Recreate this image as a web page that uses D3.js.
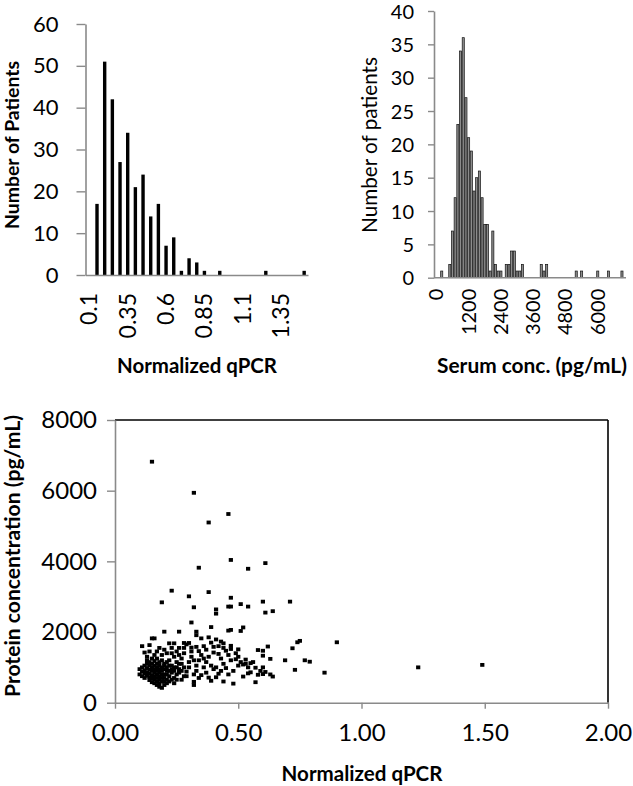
<!DOCTYPE html>
<html><head><meta charset="utf-8">
<script src="https://cdn.jsdelivr.net/npm/d3@7"></script>
<style>
body{margin:0;background:#fff}
svg{display:block}
text{font-family:Lato,"Open Sans",sans-serif;fill:#000}
</style>
</head><body>
<svg id="c" width="633" height="786"></svg>
<script>
// ---------- DATA ----------
const qpcrBins = ["0.1","0.15","0.2","0.25","0.3","0.35","0.4","0.45","0.5","0.55","0.6","0.65","0.7","0.75","0.8","0.85","0.9","0.95","1","1.05","1.1","1.15","1.2","1.25","1.3","1.35","1.4","1.45","1.5"];
const qpcrCounts = [0,17,51,42,27,34,21,24,14,17,7,9,1,4,3,1,0,1,0,0,0,0,0,1,0,0,0,0,1];
const qpcrTickLabels = ["0.1","0.35","0.6","0.85","1.1","1.35"];
const qpcrYTicks = [0,10,20,30,40,50,60];

const serumBins = [0,100,200,300,400,500,600,700,800,900,1000,1100,1200,1300,1400,1500,1600,1700,1800,1900,2000,2100,2200,2300,2400,2500,2600,2700,2800,2900,3000,3100,3200,3300,3400,3500,3600,3700,3800,3900,4000,4100,4200,4300,4400,4500,4600,4700,4800,4900,5000,5100,5200,5300,5400,5500,5600,5700,5800,5900,6000,6100,6200,6300,6400,6500,6600,6700,6800,6900,7000];
const serumCounts = [0,0,1,0,0,2,7,12,23,34,36,27,21,19,13,15,16,12,8,8,1,7,2,1,1,0,2,2,4,4,1,1,2,0,0,0,0,0,0,2,1,2,0,0,0,0,0,0,0,0,0,0,1,0,1,0,0,0,0,0,1,0,0,0,1,0,0,0,0,1,0];
const serumTickLabels = [0,1200,2400,3600,4800,6000];
const serumYTicks = [0,5,10,15,20,25,30,35,40];

const scatterXTicks = [0,0.5,1,1.5,2];
const scatterYTicks = [0,2000,4000,6000,8000];
// [normalized qPCR, protein concentration pg/mL]
const scatterPoints = [
[0.15,6820],[0.32,5940],[0.46,5340],[0.38,5100],[0.47,4040],[0.61,3950],[0.34,3820],[0.54,3790],
[0.23,3170],[0.38,3130],[0.30,3010],[0.47,2970],[0.19,2840],[0.60,2860],[0.71,2860],[0.32,2700],[0.41,2640],[0.41,2520],[0.46,2720],[0.47,2720],[0.51,2790],[0.54,2720],[0.61,2550],[0.64,2590],
[0.31,2270],[0.39,2140],[0.20,2010],[0.26,2010],[0.33,2010],[0.46,2040],[0.47,2060],[0.51,2030],[0.52,2130],
[0.15,1820],[0.16,1820],[0.11,1600],[0.14,1630],[0.75,1750],[0.74,1710],[0.90,1710],[0.72,1540],
[0.33,1910],[0.38,1850],[0.35,1820],[0.41,1790],[0.43,1730],[0.44,1680],[0.47,1610],[0.50,1510],[0.58,1490],[0.60,1470],[0.62,1590],[0.60,1330],[0.63,1240],[0.69,1200],[0.77,1200],[0.79,1160],[0.73,930],[0.85,850],[1.23,1000],[1.49,1070],[0.60,1000],[0.60,810],[0.64,740],[0.54,830],[0.52,740],[0.48,540],[0.57,580],[0.44,600],[0.38,710],[0.32,500],[0.32,590],
[0.22,1680],[0.24,1680],[0.26,1550],[0.28,1690],[0.29,1650],[0.31,1560],[0.30,1690],[0.34,1460],[0.37,1500],[0.40,1580],[0.40,1420],[0.42,1380],[0.45,1470],[0.47,1520],[0.49,1400],[0.50,1300],[0.51,1150],[0.53,1100],[0.55,1120],[0.56,1150],[0.52,1080],[0.54,1000],[0.57,990],[0.55,860],[0.58,790],[0.59,900],[0.61,870],[0.63,800],[0.53,1220],[0.49,1230],[0.47,1200],[0.44,1100],[0.45,980],[0.43,900],[0.42,820],[0.41,720],[0.40,950],[0.39,1050],[0.37,1150],[0.36,1250],[0.35,1350],[0.34,1200],[0.33,1050],[0.33,900],[0.32,800],[0.31,1300],[0.30,1150],[0.30,1000],[0.29,880],[0.28,1400],[0.27,1250],[0.27,1100],[0.26,950],[0.25,1450],[0.25,800],[0.24,1300],[0.24,700],[0.23,1550],[0.23,1050],[0.22,1200],[0.22,900],[0.21,1400],[0.21,650],[0.20,1500],[0.20,1100],[0.20,800],[0.38,1300],[0.36,1000],[0.35,780],[0.43,1250],[0.46,1350],[0.48,900],[0.50,1050],[0.44,1550],[0.42,1600],[0.39,1700],[0.36,1600],[0.33,1580],[0.31,1450],[0.28,1550],[0.26,1350],[0.32,1200],[0.34,700],[0.37,850],[0.39,620],[0.41,1000],[0.46,800],[0.27,650],[0.29,750],[0.25,1150],[0.23,1400],
[0.10,950],[0.10,800],[0.11,1000],[0.11,880],[0.11,750],[0.12,1050],[0.12,920],[0.12,820],[0.12,700],[0.13,1100],[0.13,980],[0.13,860],[0.13,760],[0.13,1200],[0.14,1050],[0.14,930],[0.14,820],[0.14,720],[0.14,640],[0.14,1150],[0.15,1000],[0.15,900],[0.15,780],[0.15,680],[0.15,580],[0.15,1250],[0.15,1100],[0.16,1050],[0.16,950],[0.16,850],[0.16,750],[0.16,650],[0.16,550],[0.16,1180],[0.17,1100],[0.17,1000],[0.17,900],[0.17,800],[0.17,700],[0.17,600],[0.17,500],[0.17,1250],[0.18,1050],[0.18,950],[0.18,850],[0.18,750],[0.18,650],[0.18,550],[0.18,450],[0.18,1150],[0.19,1000],[0.19,900],[0.19,800],[0.19,700],[0.19,600],[0.19,420],[0.19,1200],[0.20,950],[0.20,1050],[0.20,700],[0.20,600],[0.20,500],[0.21,1000],[0.21,900],[0.21,800],[0.21,550],[0.21,1150],[0.22,1050],[0.22,750],[0.22,600],[0.23,950],[0.23,850],[0.23,650],[0.24,1000],[0.24,900],[0.24,550],[0.25,1000],[0.25,650],[0.26,1100],[0.26,850],[0.27,900],[0.28,1000],[0.28,750],[0.14,1450],[0.12,1420],[0.17,1450],[0.19,1350],[0.16,1350],[0.18,1550],[0.13,1300]
];

// ---------- DRAW ----------
const svg = d3.select("#c");
const AX = "#8a8a8a";

function fitText(sel, len){
  const w = sel.node().getComputedTextLength();
  const fs = parseFloat(sel.attr("font-size"));
  sel.attr("font-size", (fs*len/w).toFixed(2));
}
function styleAxis(g, fs){
  g.select(".domain").attr("stroke", AX).attr("stroke-width", 1.6);
  g.selectAll(".tick line").attr("stroke", AX).attr("stroke-width", 1.4);
  g.selectAll(".tick text").attr("font-size", fs).attr("font-family","Lato").attr("fill","#000");
}

// ---- Panel A: qPCR histogram ----
{
  const x = d3.scaleBand().domain(qpcrBins).range([85.5, 308]).paddingInner(0);
  const y = d3.scaleLinear().domain([0, 60]).range([275, 24]);
  const g = svg.append("g");
  g.selectAll("rect").data(qpcrBins.map((b,i)=>({b, v:qpcrCounts[i]})).filter(d=>d.v>0))
    .join("rect")
    .attr("x", d => x(d.b) + x.bandwidth()/2 - 1.7)
    .attr("width", 3.4)
    .attr("y", d => y(d.v))
    .attr("height", d => y(0) - y(d.v))
    .attr("fill", "#000");
  const ya = g.append("g").attr("transform", "translate(85.5,0)")
    .call(d3.axisLeft(y).tickValues(qpcrYTicks).tickSize(9).tickSizeOuter(0).tickPadding(18));
  styleAxis(ya, 22);
  const xa = g.append("g").attr("transform", "translate(0,275)")
    .call(d3.axisBottom(x).tickValues(qpcrTickLabels).tickSize(0).tickSizeOuter(0));
  styleAxis(xa, 23);
  xa.selectAll(".tick text").attr("text-anchor","end").attr("dy","0.35em")
    .attr("transform","translate(0,18) rotate(-90)").attr("x",0).attr("y",0);
  const t1 = g.append("text").attr("font-weight","bold").attr("font-size",18)
    .attr("text-anchor","middle").attr("transform","translate(19,145) rotate(-90)")
    .text("Number of Patients");
  fitText(t1, 168);
  const t2 = g.append("text").attr("font-weight","bold").attr("font-size",20)
    .attr("text-anchor","middle").attr("x",197).attr("y",373)
    .text("Normalized qPCR");
  fitText(t2, 160);
}

// ---- Panel B: serum histogram ----
{
  const x = d3.scaleBand().domain(serumBins).range([435, 626]).paddingInner(0);
  const y = d3.scaleLinear().domain([0, 40]).range([277.7, 11]);
  const g = svg.append("g");
  g.selectAll("rect").data(serumBins.map((b,i)=>({b, v:serumCounts[i]})).filter(d=>d.v>0))
    .join("rect")
    .attr("x", d => x(d.b) + x.bandwidth()/2 - 1.05)
    .attr("width", 2.1)
    .attr("y", d => y(d.v))
    .attr("height", d => y(0) - y(d.v))
    .attr("fill", "#8c8c8c").attr("stroke","#111").attr("stroke-width",0.7);
  const ya = g.append("g").attr("transform", "translate(434,0)")
    .call(d3.axisLeft(y).tickValues(serumYTicks).tickSize(6).tickSizeOuter(0).tickPadding(14));
  styleAxis(ya, 20);
  ya.selectAll(".tick text").attr("dy","0.36em");
  const xa = g.append("g").attr("transform", "translate(0,277.7)")
    .call(d3.axisBottom(x).tickValues(serumTickLabels).tickSize(0).tickSizeOuter(0));
  styleAxis(xa, 20);
  xa.select(".domain").attr("d","M434,0H626");
  xa.selectAll(".tick text").attr("text-anchor","end").attr("dy","0.35em")
    .attr("transform","translate(0,11) rotate(-90)").attr("x",0).attr("y",0);
  const t1 = g.append("text").attr("font-size",18)
    .attr("text-anchor","middle").attr("transform","translate(377,145) rotate(-90)")
    .text("Number of patients");
  fitText(t1, 176);
  const t2 = g.append("text").attr("font-weight","bold").attr("font-size",18)
    .attr("text-anchor","middle").attr("x",532).attr("y",373)
    .text("Serum conc. (pg/mL)");
  fitText(t2, 190);
}

// ---- Panel C: scatter ----
{
  const x = d3.scaleLinear().domain([0, 2]).range([115, 608]);
  const y = d3.scaleLinear().domain([0, 8000]).range([702.7, 420]);
  const g = svg.append("g");
  g.append("line").attr("x1",115).attr("x2",608).attr("y1",y(8000)).attr("y2",y(8000))
    .attr("stroke","#000").attr("stroke-width",1.6);
  g.append("line").attr("x1",608).attr("x2",608).attr("y1",y(8000)).attr("y2",y(0))
    .attr("stroke","#000").attr("stroke-width",1.6);
  const ya = g.append("g").attr("transform","translate(115,0)")
    .call(d3.axisLeft(y).tickValues(scatterYTicks).tickFormat(d3.format("d")).tickSize(8).tickSizeOuter(0).tickPadding(10));
  styleAxis(ya, 24);
  const xa = g.append("g").attr("transform","translate(0,702.7)")
    .call(d3.axisBottom(x).tickValues(scatterXTicks).tickFormat(d3.format(".2f")).tickSize(6).tickSizeOuter(0).tickPadding(15));
  styleAxis(xa, 24);
  g.selectAll("rect.pt").data(scatterPoints).join("rect").attr("class","pt")
    .attr("x", d => x(d[0]) - 2.1).attr("y", d => y(d[1]) - 1.9)
    .attr("width", 4.2).attr("height", 3.8).attr("fill","#000");
  const t1 = g.append("text").attr("font-weight","bold").attr("font-size",17)
    .attr("text-anchor","middle").attr("transform","translate(20,556) rotate(-90)")
    .text("Protein concentration (pg/mL)");
  fitText(t1, 282);
  const t2 = g.append("text").attr("font-weight","bold").attr("font-size",18)
    .attr("text-anchor","middle").attr("x",362).attr("y",781)
    .text("Normalized qPCR");
  fitText(t2, 161);
}
</script>
</body></html>
